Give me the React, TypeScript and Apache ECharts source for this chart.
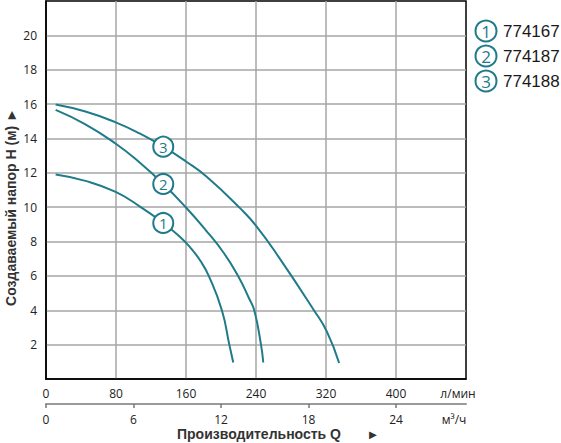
import React, { useEffect, useRef } from 'react';
import * as echarts from 'echarts';

const TEAL = '#1f7b8a';
const FONT = '"Open Sans", "Noto Sans", sans-serif';
const TITLE_FONT = '"Liberation Sans", Arial, sans-serif';

// Axis ticks
const flowLpmTicks = [0, 80, 160, 240, 320, 400];
const flowM3hTicks = [0, 6, 12, 18, 24];
const headTicks = [2, 4, 6, 8, 10, 12, 14, 16, 18, 20];

// Curve 1 (774167)
const q1 = [11, 45, 79, 107, 134, 153, 165, 176, 186, 201, 209.5, 214];
const h1 = [11.9, 11.53, 10.9, 10.05, 9.08, 8.28, 7.65, 6.91, 6.0, 4.0, 2.0, 0.96];
// Curve 2 (774187)
const q2 = [11, 45, 79, 107, 134, 160, 182, 203, 220, 232, 238, 245.7, 248.3];
const h2 = [15.66, 14.82, 13.72, 12.6, 11.35, 9.98, 8.7, 7.35, 5.95, 4.7, 4.0, 2.0, 0.96];
// Curve 3 (774188)
const q3 = [11, 45, 79, 107, 134, 160, 184, 222, 241, 267, 306, 321, 335];
const h3 = [15.98, 15.57, 14.95, 14.29, 13.52, 12.66, 11.76, 9.93, 8.86, 7.02, 4.02, 2.76, 0.93];

// Curve marker positions
const markerQ = [134, 134, 134];
const markerH = [9.08, 11.35, 13.52];
const curveIds = ['1', '2', '3'];
const models = ['774167', '774187', '774188'];

const zip = (a: number[], b: number[]) => a.map((v, i) => [v, b[i]]);

export default function App() {
  const ref = useRef<HTMLDivElement>(null);
  useEffect(() => {
    if (!ref.current) return;
    const chart = echarts.init(ref.current, null, { renderer: 'svg' });
    const curves = [zip(q1, h1), zip(q2, h2), zip(q3, h3)];
    const legendY = [31, 56, 81];
    const graphic: any[] = [];
    models.forEach((m, i) => {
      graphic.push({
        type: 'circle',
        shape: { cx: 486, cy: legendY[i], r: 10.5 },
        style: { fill: '#fff', stroke: TEAL, lineWidth: 2 },
      });
      graphic.push({
        type: 'text',
        x: 486,
        y: legendY[i] + 0.5,
        style: { text: curveIds[i], fill: TEAL, font: `17px ${FONT}`, textAlign: 'center', textVerticalAlign: 'middle' },
      });
      graphic.push({
        type: 'text',
        x: 503,
        y: legendY[i] + 0.5,
        style: { text: m, fill: '#1a1a1a', font: `17px ${TITLE_FONT}`, textAlign: 'left', textVerticalAlign: 'middle' },
      });
    });
    graphic.push({
      type: 'text', x: 458, y: 393,
      style: { text: 'л/мин', fill: '#222', font: `12px ${FONT}`, textAlign: 'center', textVerticalAlign: 'middle' },
    });
    graphic.push({
      type: 'text', x: 454, y: 419,
      style: { text: 'м³/ч', fill: '#222', font: `12px ${FONT}`, textAlign: 'center', textVerticalAlign: 'middle' },
    });
    graphic.push({
      type: 'text', x: 259, y: 434,
      style: { text: 'Производительность Q', fill: '#333', font: `bold 14px ${TITLE_FONT}`, textAlign: 'center', textVerticalAlign: 'middle' },
    });
    graphic.push({
      type: 'text', x: 373, y: 434,
      style: { text: '►', fill: '#333', font: `13px ${TITLE_FONT}`, textAlign: 'center', textVerticalAlign: 'middle' },
    });
    graphic.push({
      type: 'text', x: 11, y: 207, rotation: Math.PI / 2,
      style: { text: 'Создаваемый напор H (м) ►', fill: '#333', font: `bold 14px ${TITLE_FONT}`, textAlign: 'center', textVerticalAlign: 'middle' },
    });

    chart.setOption({
      animation: false,
      backgroundColor: '#fff',
      grid: { left: 46, right: 95, top: 1, bottom: 64, show: true, borderColor: '#000', borderWidth: 1.5, backgroundColor: 'transparent' },
      xAxis: [
        {
          type: 'value', min: 0, max: 480, interval: 80, position: 'bottom',
          axisLine: { show: true, lineStyle: { color: '#000', width: 1.5 } },
          axisTick: { show: false },
          axisLabel: { customValues: flowLpmTicks, margin: 8, color: '#222', fontSize: 12, fontFamily: FONT },
          splitLine: { show: true, showMinLine: false, showMaxLine: false, lineStyle: { color: '#a6a6a6', width: 1.5 } },
        },
        {
          type: 'value', min: 0, max: 28.8, position: 'bottom', offset: 25,
          axisLine: { show: true, lineStyle: { color: '#9a9a9a', width: 2 } },
          axisTick: { show: true, customValues: flowM3hTicks, length: 4, lineStyle: { color: '#777', width: 1.5 } },
          axisLabel: { customValues: flowM3hTicks, margin: 9, color: '#222', fontSize: 12, fontFamily: FONT },
          splitLine: { show: false },
        },
      ],
      yAxis: {
        type: 'value', min: 0, max: 22, interval: 2,
        axisLine: { show: true, lineStyle: { color: '#000', width: 1.5 } },
        axisTick: { show: false },
        axisLabel: { customValues: headTicks, margin: 9, color: '#222', fontSize: 12, fontFamily: FONT },
        splitLine: { show: true, showMinLine: false, showMaxLine: false, lineStyle: { color: '#a6a6a6', width: 1.5 } },
      },
      series: [
        ...curves.map((d, i) => ({
          type: 'line', name: models[i], data: d, smooth: 0.5, showSymbol: false, symbol: 'none',
          lineStyle: { color: TEAL, width: 2 }, z: 3, silent: true,
        })),
        {
          type: 'scatter',
          data: markerQ.map((q, i) => [q, markerH[i], curveIds[i]]),
          symbol: 'circle', symbolSize: 20, z: 5,
          itemStyle: { color: '#fff', borderColor: TEAL, borderWidth: 2, opacity: 1 },
          label: { show: true, position: 'inside', formatter: (p: any) => p.value[2], color: TEAL, fontSize: 15, fontFamily: FONT },
        },
      ],
      graphic,
    });
    return () => chart.dispose();
  }, []);
  return <div ref={ref} style={{ position: 'absolute', left: 0, top: 0, width: 561, height: 443 }} />;
}
